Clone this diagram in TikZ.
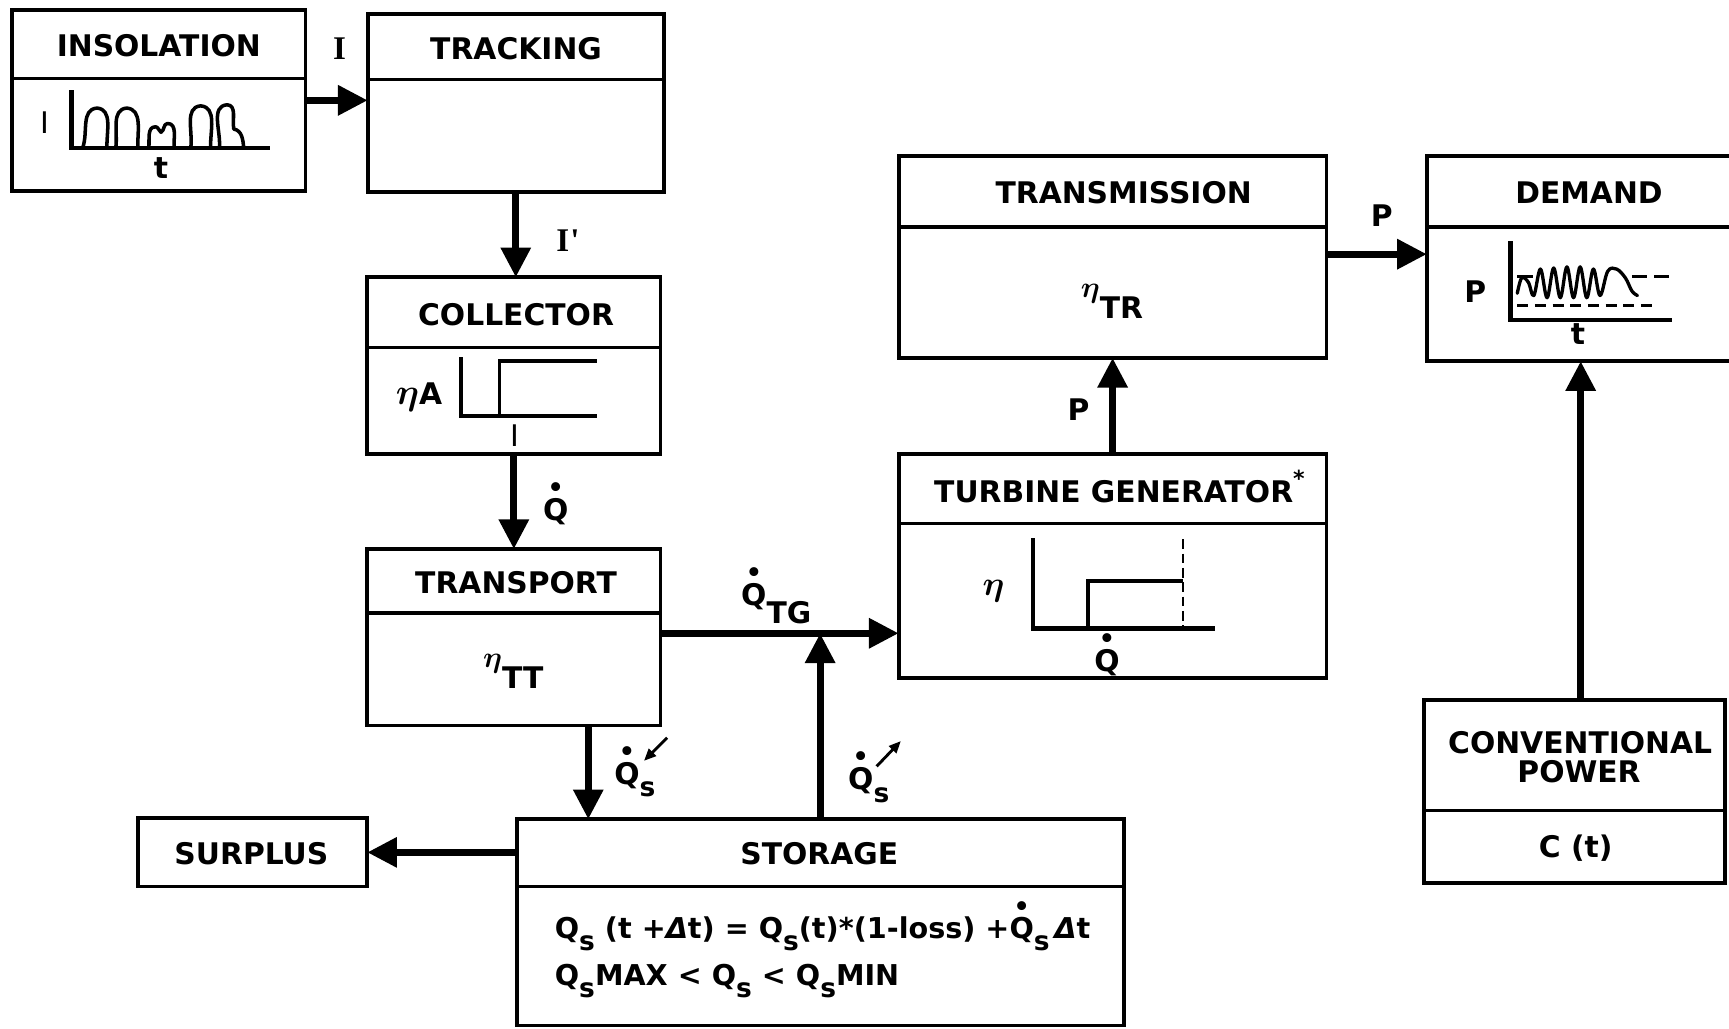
\RequirePackage{fix-cm}
\documentclass[tikz,border=0pt]{standalone}
\usepackage{fontspec}
\setmainfont{DejaVu Sans}
\newfontfamily\serfont{Liberation Serif}
\usetikzlibrary{arrows.meta}
\newcommand\fs{\fontsize{27}{32}\selectfont}
\newcommand\Qd{\ooalign{Q\cr\hidewidth\raisebox{0.80em}{\fontsize{23}{23}\selectfont •}\hidewidth\cr}}
\newcommand\ssub[1]{\raisebox{-0.42em}{\fontsize{24}{24}\selectfont #1}}
\newcommand\bEta{\mbox{\boldmath$\eta$}}
\newcommand\etaup{\raisebox{0.7em}{\bEta}}
\begin{document}
\begin{tikzpicture}[x=1pt,y=-1pt,
  boxst/.style={draw, line width=3.5pt, inner sep=0pt, outer sep=0pt, anchor=north west},
  divst/.style={line width=3pt},
  arr/.style={line width=6.5pt, -{Triangle[length=27pt,width=26pt]}},
  thinarr/.style={line width=2.6pt, -{Triangle[length=11pt,width=9pt]}},
  axisst/.style={line width=4pt, line join=miter},
  curvest/.style={line width=3.2pt, line join=round, line cap=round},
  txt/.style={font=\fs\bfseries, inner sep=0pt, anchor=base},
  plainlbl/.style={font=\fontsize{27}{32}\selectfont, inner sep=0pt, anchor=base},
  ser/.style={font=\fontsize{30}{34}\selectfont\serfont\bfseries, inner sep=0pt, anchor=base},
  eqst/.style={font=\fontsize{26}{30}\selectfont\bfseries, inner sep=0pt, anchor=base west},
]
\useasboundingbox[fill=white] (0,0) rectangle (1568,933);

% ---------- boxes ----------
\node[boxst, minimum width=266pt, minimum height=164pt] (insol) at (11,9) {};
\draw[divst] ([yshift=-62pt]insol.north west) -- ([yshift=-62pt]insol.north east);
\node[boxst, minimum width=268.5pt, minimum height=161.5pt] (track) at (333.5,12.5) {};
\draw[divst] ([yshift=-59.5pt]track.north west) -- ([yshift=-59.5pt]track.north east);
\node[boxst, minimum width=266pt, minimum height=160.5pt] (coll) at (333,251.5) {};
\draw[divst] ([yshift=-63.5pt]coll.north west) -- ([yshift=-63.5pt]coll.north east);
\node[boxst, minimum width=266.5pt, minimum height=160pt] (transp) at (332.5,498) {};
\draw[divst] ([yshift=-58pt]transp.north west) -- ([yshift=-58pt]transp.north east);
\node[boxst, minimum width=550.5pt, minimum height=187pt] (stor) at (468.5,743) {};
\draw[divst] ([yshift=-61pt]stor.north west) -- ([yshift=-61pt]stor.north east);
\node[boxst, minimum width=208pt, minimum height=62pt] (surplus) at (125,742) {};
\node[boxst, minimum width=388pt, minimum height=202.5pt] (turb) at (815,412) {};
\draw[divst] ([yshift=-63pt]turb.north west) -- ([yshift=-63pt]turb.north east);
\node[boxst, minimum width=388pt, minimum height=183pt] (trans) at (815,141.5) {};
\draw[divst] ([yshift=-64.5pt]trans.north west) -- ([yshift=-64.5pt]trans.north east);
\node[boxst, minimum width=320pt, minimum height=186pt] (demand) at (1294,141.5) {};
\draw[divst] ([yshift=-64.5pt]demand.north west) -- ([yshift=-64.5pt]demand.north east);
\node[boxst, minimum width=273pt, minimum height=166pt] (conv) at (1291,635) {};
\draw[divst] ([yshift=-100pt]conv.north west) -- ([yshift=-100pt]conv.north east);

% ---------- titles ----------
\node[txt] (tInsol) at (144,51) {INSOLATION};
\node[txt] (tTrack) at (468,54) {TRACKING};
\node[txt] (tColl) at (468,295) {COLLECTOR};
\node[txt] (tTransp) at (468,538) {TRANSPORT};
\node[txt] (tStor) at (743,784) {STORAGE};
\node[txt] (tSurp) at (228,784) {SURPLUS};
\node[txt] (tTurb) at (1010,456) {TURBINE GENERATOR\rlap{\raisebox{0.55em}{\fontsize{20}{20}\selectfont *}}};
\node[txt] (tTrans) at (1019,185) {TRANSMISSION};
\node[txt] (tDem) at (1441,185) {DEMAND};
\node[txt] (tConv1) at (1433,683) {CONVENTIONAL};
\node[txt] (tConv2) at (1432,710) {POWER};
\node[txt] (tCt) at (1429,778) {C (t)};

% ---------- box contents ----------
\node[txt] (etaTT) at (465.5,624) {\etaup TT};
\node[txt] (etaTR) at (1008.5,289) {\etaup TR};
\node[eqst] (eq1) at (503,851) {Q\ssub{s} (t +\textit{Δ}t) = Q\ssub{s}(t)*(1-loss) +\Qd\ssub{s}\,\textit{Δ}t};
\node[eqst] (eq2) at (503,894) {Q\ssub{s}MAX < Q\ssub{s} < Q\ssub{s}MIN};

% insolation graph
\draw[axisst] (65,82) -- (65,134) -- (245,134);
\draw[curvest] (75,134) to[out=70,in=185] (88,98) to[out=-5,in=92] (97,134);
\draw[curvest] (105,134) to[out=82,in=185] (115,98) to[out=-5,in=92] (125,134);
\draw[curvest] (135,134) to[out=85,in=180] (141,115) to[out=0,in=150] (146,120) to[out=30,in=180] (152,112) to[out=0,in=95] (158,134);
\draw[curvest] (173,134) to[out=82,in=185] (182,96) to[out=-5,in=92] (191,134);
\draw[curvest] (199,134) to[out=85,in=185] (206,95) to[out=-5,in=100] (212,117) to[out=-10,in=95] (221,134);
\node[plainlbl] (iI) at (41,121) {I};
\node[txt] (iT) at (146,162) {t};

% collector graph
\draw[axisst] (418,324) -- (418,377) -- (541,377);
\draw[axisst, line width=3.5pt] (453,377) -- (453,327) -- (541,327);
\node[txt, anchor=base] (cEta) at (380,367) {{\fontsize{33}{33}\selectfont\bEta}A};
\node[plainlbl] (cI) at (467,405) {I};

% turbine graph
\draw[axisst] (937,488) -- (937,570) -- (1102,570);
\draw[axisst, line width=3.5pt] (987,570) -- (987,527) -- (1073,527);
\draw[line width=2pt, dash pattern=on 9pt off 4pt] (1073,489) -- (1073,570);
\node[plainlbl, font=\fontsize{31}{34}\selectfont] (tEta) at (901,540) {\bEta};
\node[txt] (tQ) at (1004,609) {\Qd};

% demand graph
\draw[axisst] (1370,219) -- (1370,290) -- (1516,290);
\draw[line width=2.5pt, dash pattern=on 10pt off 6pt] (1376,277) -- (1502,277);
\draw[line width=2.5pt] (1376,251) -- (1390,251);
\draw[line width=2.5pt, dash pattern=on 14pt off 6pt] (1480,251) -- (1516,251);
\draw[curvest, line width=3pt] plot[smooth, tension=0.6] coordinates {(1376,266) (1380,252) (1386,256) (1391,268) (1397,244) (1403,270) (1409,243) (1415,270) (1421,242) (1427,270) (1433,242) (1439,270) (1445,244) (1451,268) (1458,246) (1466,244) (1474,252) (1480,264) (1485,268)};
\node[txt] (dP) at (1338,274) {P};
\node[txt] (dT) at (1431,312) {t};

% ---------- arrows ----------
\coordinate (jn) at (744,574.3);
\draw[arr] (insol.east) -- (insol.east -| track.west);
\draw[arr] (track.south) -- (track.south |- coll.north);
\draw[arr] (coll.south) -- (coll.south |- transp.north);
\draw[arr] (transp.east |- jn) -- (turb.west |- jn);
\draw[arr] (stor.north) -- (stor.north |- jn);
\draw[arr] ([xshift=67.75pt]transp.south) -- ([xshift=67.75pt]transp.south |- stor.north);
\draw[arr] (stor.west |- surplus.east) -- (surplus.east);
\draw[arr] (turb.north) -- (turb.north |- trans.south);
\draw[arr] ([yshift=2.5pt]trans.east) -- ([yshift=2.5pt]trans.east -| demand.west);
\draw[arr] ([xshift=6pt]conv.north) -- ([xshift=6pt]conv.north |- demand.south);

% ---------- arrow labels ----------
\node[ser] (lI) at (308,54) {I};
\node[ser] (lIp) at (515,228) {I\kern1pt'};
\node[txt] (lQ) at (504,472) {\Qd};
\node[txt, anchor=base west] (lQtg) at (672,549) {\Qd\raisebox{-0.62em}{TG}};
\node[txt] (lP1) at (978,381) {P};
\node[txt] (lP2) at (1253,205) {P};
\node[txt, anchor=base west] (lQs1) at (557,711) {\Qd\ssub{s}};
\node[txt, anchor=base west] (lQs2) at (769,716) {\Qd\ssub{s}};
\coordinate (sa1) at (605,669);
\coordinate (sa2) at (584,690);
\coordinate (sb1) at (795,695);
\coordinate (sb2) at (817,672);
\draw[thinarr] (sa1) -- (sa2);
\draw[thinarr] (sb1) -- (sb2);
\end{tikzpicture}
\end{document}
